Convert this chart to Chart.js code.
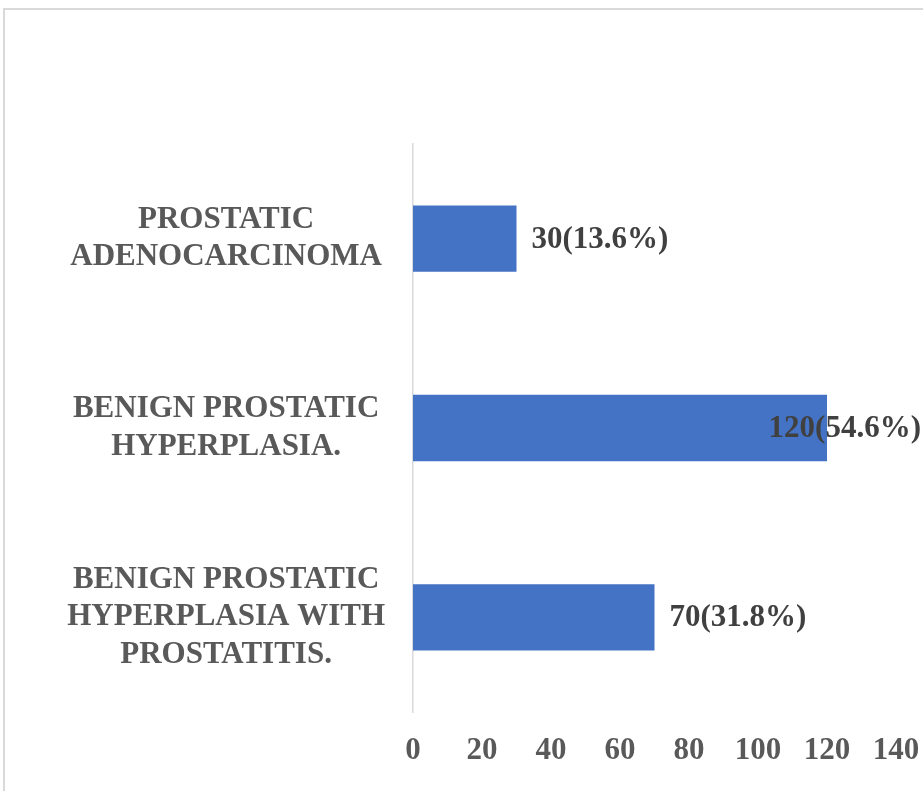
<!DOCTYPE html>
<html>
<head>
<meta charset="utf-8">
<script src="https://cdn.jsdelivr.net/npm/chart.js@4/dist/chart.umd.min.js"></script>
<style>
html,body{margin:0;padding:0;background:#fff;overflow:hidden;}
#wrap{position:absolute;left:0;top:0;width:923px;height:791px;}
#frame{position:absolute;left:3px;top:8px;width:1000px;height:900px;border:2px solid #d9d9d9;box-sizing:border-box;}
canvas{position:absolute;left:0;top:0;}
</style>
</head>
<body>
<div id="wrap">
<div id="frame"></div>
<canvas id="c" width="923" height="791"></canvas>
</div>
<script>
const categories = [
  ["PROSTATIC", "ADENOCARCINOMA"],
  ["BENIGN PROSTATIC", "HYPERPLASIA."],
  ["BENIGN PROSTATIC", "HYPERPLASIA WITH", "PROSTATITIS."]
];
const counts = [30, 120, 70];
const percents = [13.6, 54.6, 31.8];
const xMin = 0, xMax = 140, xStep = 20;

const FONT = '"Liberation Serif", "Times New Roman", serif';

const labelPlugin = {
  id: 'barLabels',
  afterDatasetsDraw(chart) {
    const ctx = chart.ctx;
    const meta = chart.getDatasetMeta(0);
    ctx.save();
    ctx.font = 'bold 31px ' + FONT;
    ctx.fillStyle = '#404040';
    ctx.textBaseline = 'middle';
    ctx.textAlign = 'left';
    meta.data.forEach((bar, i) => {
      const txt = counts[i] + '(' + percents[i].toFixed(1) + '%)';
      const w = ctx.measureText(txt).width;
      let x = bar.x + 15;
      if (x + w > chart.width - 2) x = chart.width - 2 - w;
      ctx.fillText(txt, x, bar.y + 1);
    });
    ctx.restore();
  }
};

new Chart(document.getElementById('c'), {
  type: 'bar',
  data: {
    labels: categories,
    datasets: [{
      data: counts,
      backgroundColor: '#4472C4',
      borderWidth: 0,
      categoryPercentage: 1.0,
      barPercentage: 0.35
    }]
  },
  options: {
    indexAxis: 'y',
    responsive: false,
    animation: false,
    devicePixelRatio: 1,
    layout: { padding: { left: 0, top: 144, right: 27, bottom: 0 } },
    plugins: { legend: { display: false }, tooltip: { enabled: false } },
    scales: {
      x: {
        min: xMin, max: xMax,
        ticks: {
          stepSize: xStep,
          color: '#595959',
          padding: 20,
          font: { family: FONT, size: 31, weight: 'bold' },
          maxRotation: 0
        },
        grid: { display: false, drawTicks: false },
        border: { display: false },
        afterFit(scale) { scale.height = 79; scale.paddingLeft = 0; scale.paddingRight = 0; }
      },
      y: {
        ticks: {
          color: '#595959',
          padding: 28,
          crossAlign: 'center',
          font: { family: FONT, size: 31, weight: 'bold', lineHeight: 1.2 }
        },
        grid: { display: false, drawTicks: false },
        border: { display: true, color: '#d9d9d9', width: 1.5 },
        afterFit(scale) { scale.width = 413; scale.paddingTop = 0; scale.paddingBottom = 0; }
      }
    }
  },
  plugins: [labelPlugin]
});
</script>
</body>
</html>
